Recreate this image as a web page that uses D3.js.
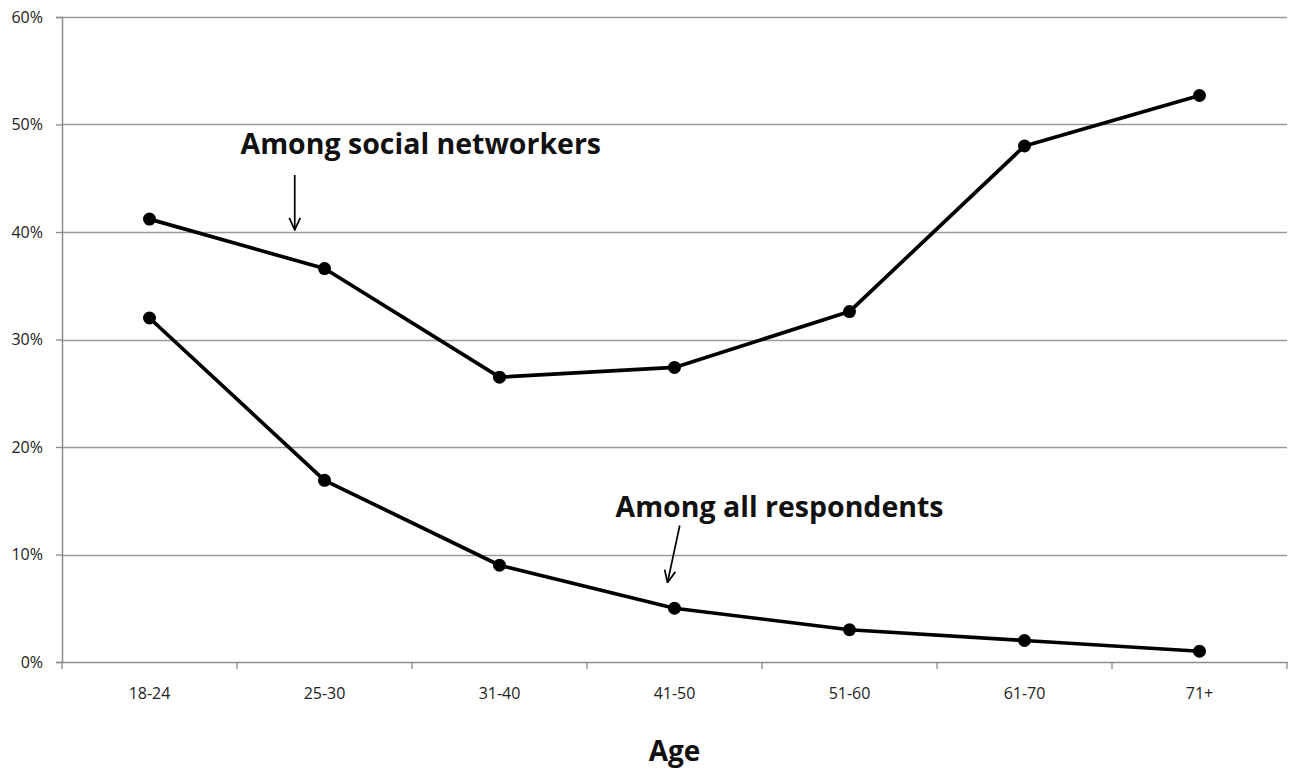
<!DOCTYPE html>
<html>
<head>
<meta charset="utf-8">
<script src="https://cdn.jsdelivr.net/npm/d3@7"></script>
<style>
  body { margin: 0; background: #fff; }
  svg text { font-family: "Open Sans", "DejaVu Sans", sans-serif; }
</style>
</head>
<body>
<div id="chart"></div>
<script>
// age groups along the x axis
const ageGroups = ["18-24", "25-30", "31-40", "41-50", "51-60", "61-70", "71+"];

// share (%) per age group
const socialNetworkers = [41.2, 36.6, 26.5, 27.4, 32.6, 48.0, 52.7];
const allRespondents = [32.0, 16.9, 9.0, 5.0, 3.0, 2.0, 1.0];

const yTicks = [0, 10, 20, 30, 40, 50, 60];

// annotations: label, anchor point (category index, %) and arrow
const notes = [
    { text: "Among social networkers", cx: 1.55, cy: 47.3, from: [0.83, 45.3], to: [0.83, 40.2] },
    { text: "Among all respondents", cx: 3.6, cy: 13.5, from: [3.03, 12.7], to: [2.96, 7.4] },
];

const width = 1290, height = 772;
const margin = { top: 17, right: 3, bottom: 110, left: 62 };

const svg = d3.select("#chart")
    .append("svg")
    .attr("width", width)
    .attr("height", height);

const x = d3.scaleBand()
    .domain(ageGroups)
    .range([margin.left, width - margin.right])
    .padding(0);

const y = d3.scaleLinear()
    .domain([0, 60])
    .range([height - margin.bottom, margin.top]);

// continuous helper for annotations (category index -> px, centre of band)
const xi = (i) => margin.left + x.step() * (i + 0.5);

// gridlines
svg.append("g")
    .selectAll("line")
    .data(yTicks.filter((d) => d > 0))
    .enter()
    .append("line")
    .attr("x1", margin.left)
    .attr("x2", width - margin.right)
    .attr("y1", (d) => Math.round(y(d)) + 0.5)
    .attr("y2", (d) => Math.round(y(d)) + 0.5)
    .style("stroke", "#9a9a9a")
    .style("stroke-width", 1.3);

// y axis
const yAxis = svg.append("g")
    .attr("transform", `translate(${margin.left},0)`)
    .call(d3.axisLeft(y).tickValues(yTicks).tickFormat((d) => d + "%").tickSize(6).tickPadding(13));
yAxis.select(".domain").style("stroke", "#8c8c8c").style("stroke-width", 1.5);
yAxis.selectAll(".tick line").style("stroke", "#8c8c8c").style("stroke-width", 1.3);
yAxis.selectAll("text")
    .style("font-size", "16px")
    .style("fill", "#222");

// x axis, ticks on category boundaries
const xAxis = svg.append("g")
    .attr("transform", `translate(0,${y(0)})`)
    .call(d3.axisBottom(x).tickSize(0).tickPadding(25.5));
xAxis.select(".domain").style("stroke", "#8c8c8c").style("stroke-width", 1.5);
xAxis.selectAll("text")
    .style("font-size", "16px")
    .style("fill", "#222");
xAxis.selectAll(".bound")
    .data(d3.range(ageGroups.length + 1))
    .enter()
    .append("line")
    .attr("class", "bound")
    .attr("x1", (i) => margin.left + x.step() * i)
    .attr("x2", (i) => margin.left + x.step() * i)
    .attr("y1", 0)
    .attr("y2", 7)
    .style("stroke", "#8c8c8c")
    .style("stroke-width", 1.3);

// x axis title
svg.append("text")
    .attr("x", xi(3))
    .attr("y", 761)
    .attr("text-anchor", "middle")
    .style("font-size", "28px")
    .style("font-weight", "bold")
    .style("fill", "#111")
    .text("Age");

// series lines and markers
const line = d3.line()
    .x((d, i) => x(ageGroups[i]) + x.bandwidth() / 2)
    .y((d) => y(d));

[socialNetworkers, allRespondents].forEach((series) => {
    svg.append("path")
        .datum(series)
        .attr("d", line)
        .style("fill", "none")
        .style("stroke", "#000")
        .style("stroke-width", 3.7)
        .style("stroke-linejoin", "round");

    svg.append("g")
        .selectAll("circle")
        .data(series)
        .enter()
        .append("circle")
        .attr("cx", (d, i) => x(ageGroups[i]) + x.bandwidth() / 2)
        .attr("cy", (d) => y(d))
        .attr("r", 6.5)
        .style("fill", "#000");
});

// arrow marker
svg.append("defs")
    .append("marker")
    .attr("id", "arrow")
    .attr("viewBox", "0 0 14 14")
    .attr("refX", 13)
    .attr("refY", 7)
    .attr("markerWidth", 14)
    .attr("markerHeight", 14)
    .attr("markerUnits", "userSpaceOnUse")
    .attr("orient", "auto")
    .append("path")
    .attr("d", "M1,1.5 L13,7 L1,12.5")
    .style("fill", "none")
    .style("stroke", "#000")
    .style("stroke-width", 1.7);

// annotations
notes.forEach((n) => {
    svg.append("text")
        .attr("x", xi(n.cx))
        .attr("y", y(n.cy))
        .attr("text-anchor", "middle")
        .style("font-size", "28.5px")
        .style("font-weight", "bold")
        .style("fill", "#111")
        .text(n.text);

    svg.append("line")
        .attr("x1", xi(n.from[0]))
        .attr("y1", y(n.from[1]))
        .attr("x2", xi(n.to[0]))
        .attr("y2", y(n.to[1]))
        .style("stroke", "#000")
        .style("stroke-width", 1.7)
        .attr("marker-end", "url(#arrow)");
});
</script>
</body>
</html>
